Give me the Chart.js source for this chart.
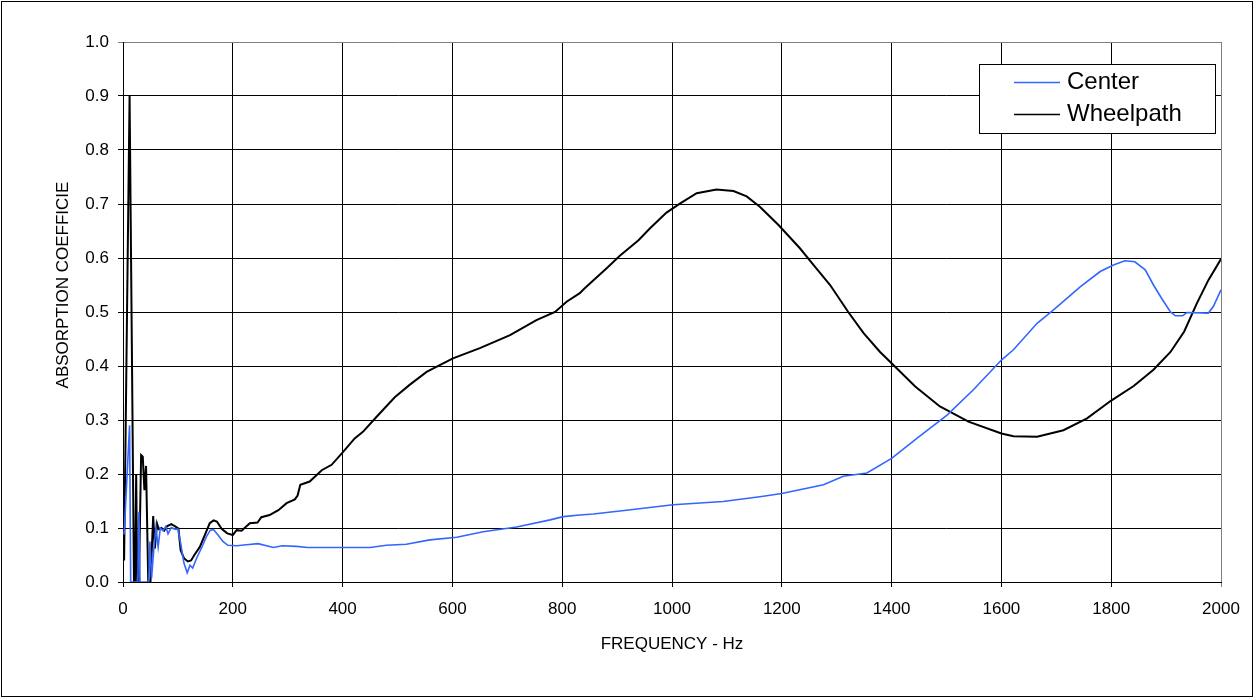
<!DOCTYPE html>
<html>
<head>
<meta charset="utf-8">
<title>Absorption coefficient</title>
<script src="https://cdn.jsdelivr.net/npm/chart.js@4.4.1/dist/chart.umd.min.js"></script>
<style>
  html, body { margin: 0; padding: 0; background: #fff; }
  #wrap { position: relative; width: 1254px; height: 698px; }
  #frame {
    position: absolute; left: 1px; top: 1px; width: 1252px; height: 696px;
    border: 1px solid #000; box-sizing: border-box; pointer-events: none;
  }
</style>
</head>
<body>
<div id="wrap">
  <canvas id="chart"></canvas>
  <div id="frame"></div>
</div>
<script>
// ------------------------------------------------------------
// DATA
// ------------------------------------------------------------
const X_TITLE = "FREQUENCY - Hz";
const Y_TITLE = "ABSORPTION COEFFICIE";

const centerHz = [
  2, 12, 14, 27, 29, 31, 47, 49, 52, 56, 60, 64, 68, 73, 78, 82, 88, 94, 100,
  105, 111, 117, 122, 127, 134, 143, 152, 159, 165, 173, 182, 191, 207, 225,
  246, 274, 290, 316, 336, 371, 450, 480, 516, 559, 608, 656, 717, 778, 802,
  832, 857, 917, 1002, 1093, 1160, 1200, 1276, 1312, 1355, 1400, 1446, 1501,
  1549, 1600, 1622, 1665, 1695, 1744, 1780, 1804, 1825, 1843, 1862, 1877,
  1892, 1908, 1917, 1930, 1938, 1977, 1986, 2000
];
const centerVal = [
  0.088, 0.29, 0, 0, 0.13, 0, 0, 0.075, 0.007, 0.059, 0.1, 0.065, 0.1, 0.095,
  0.103, 0.089, 0.101, 0.098, 0.098, 0.072, 0.035, 0.017, 0.031, 0.026, 0.044,
  0.063, 0.084, 0.096, 0.097, 0.087, 0.075, 0.068, 0.067, 0.069, 0.071, 0.064,
  0.067, 0.066, 0.064, 0.064, 0.064, 0.068, 0.07, 0.078, 0.083, 0.093, 0.102,
  0.115, 0.121, 0.124, 0.126, 0.133, 0.143, 0.149, 0.158, 0.164, 0.18, 0.196,
  0.202, 0.229, 0.266, 0.309, 0.356, 0.411, 0.43, 0.479, 0.504, 0.547, 0.575,
  0.587, 0.595, 0.593, 0.578, 0.55, 0.525, 0.5, 0.493, 0.493, 0.499, 0.498,
  0.51, 0.541
];

const wheelHz = [
  2, 12, 20, 22, 24, 26, 29, 33, 36, 39, 42, 46, 50, 55, 58, 62, 65, 70, 75,
  80, 88, 95, 101, 105, 111, 118, 124, 130, 140, 149, 158, 165, 171, 180, 190,
  200, 207, 216, 231, 245, 252, 267, 283, 298, 313, 318, 323, 340, 362, 380,
  401, 422, 437, 462, 495, 522, 553, 601, 650, 705, 753, 787, 808, 832, 841,
  881, 905, 939, 960, 990, 1015, 1045, 1081, 1112, 1136, 1160, 1194, 1233,
  1258, 1288, 1321, 1349, 1379, 1400, 1443, 1488, 1540, 1600, 1622, 1665,
  1713, 1756, 1800, 1841, 1877, 1908, 1933, 1956, 1977, 2000
];
const wheelVal = [
  0.04, 0.90, 0, 0, 0.2, 0, 0, 0.235, 0.232, 0.17, 0.215, 0, 0, 0.122, 0.062,
  0.108, 0.098, 0.1, 0.095, 0.103, 0.107, 0.103, 0.099, 0.059, 0.044, 0.038,
  0.04, 0.05, 0.065, 0.087, 0.109, 0.114, 0.112, 0.098, 0.09, 0.087, 0.096,
  0.095, 0.109, 0.11, 0.12, 0.124, 0.133, 0.146, 0.153, 0.16, 0.18, 0.186,
  0.207, 0.217, 0.241, 0.266, 0.278, 0.306, 0.342, 0.365, 0.389, 0.414, 0.433,
  0.457, 0.485, 0.5, 0.519, 0.535, 0.544, 0.581, 0.604, 0.633, 0.655, 0.684,
  0.701, 0.72, 0.727, 0.724, 0.714, 0.695, 0.661, 0.618, 0.587, 0.55, 0.5,
  0.461, 0.426, 0.405, 0.362, 0.325, 0.297, 0.275, 0.27, 0.269, 0.281, 0.303,
  0.336, 0.363, 0.393, 0.426, 0.464, 0.516, 0.559, 0.598
];

const FONT = "'Liberation Sans', Arial, sans-serif";

// ------------------------------------------------------------
// PLUGINS
// ------------------------------------------------------------
// vertical axis title (Excel leaves it off-centre and clipped)
const yTitlePlugin = {
  id: "yTitle",
  afterDraw(chart) {
    const ctx = chart.ctx;
    ctx.save();
    ctx.translate(63, 285);
    ctx.rotate(-Math.PI / 2);
    ctx.font = "17px " + FONT;
    ctx.fillStyle = "#000";
    ctx.textAlign = "center";
    ctx.textBaseline = "middle";
    ctx.fillText(Y_TITLE, 0, 0);
    ctx.restore();
  }
};

// boxed legend inside the plot area, top right
const boxLegendPlugin = {
  id: "boxLegend",
  afterDraw(chart) {
    const ctx = chart.ctx;
    const a = chart.chartArea;
    const left = a.right - 242, top = a.top + 22, w = 236, h = 69;
    ctx.save();
    ctx.fillStyle = "#fff";
    ctx.fillRect(left, top, w, h);
    ctx.strokeStyle = "#000";
    ctx.lineWidth = 1;
    ctx.strokeRect(left + 0.5, top + 0.5, w, h);
    ctx.font = "24px " + FONT;
    ctx.textBaseline = "middle";
    chart.data.datasets.forEach((ds, i) => {
      const y = Math.round(top + 18 + i * 32) + 0.5;
      ctx.strokeStyle = ds.borderColor;
      ctx.lineWidth = 1.5;
      ctx.beginPath();
      ctx.moveTo(left + 35, y);
      ctx.lineTo(left + 81, y);
      ctx.stroke();
      ctx.fillStyle = "#000";
      ctx.fillText(ds.label, left + 88, y);
    });
    ctx.restore();
  }
};

// ------------------------------------------------------------
// CHART
// ------------------------------------------------------------
function makeDataset(label, xs, ys, color, width) {
  return {
    label,
    data: xs.map((x, i) => ({ x, y: ys[i] })),
    borderColor: color,
    backgroundColor: color,
    borderWidth: width,
    tension: 0,
    pointRadius: 0
  };
}

const tickFont = { family: FONT, size: 17 };

new Chart(document.getElementById("chart"), {
  type: "line",
  data: {
    datasets: [
      makeDataset("Center",    centerHz, centerVal, "#3366ff", 1.6),
      makeDataset("Wheelpath", wheelHz,  wheelVal,  "#000000", 2)
    ]
  },
  options: {
    responsive: true,
    maintainAspectRatio: false,
    animation: false,
    layout: { padding: { left: 0, right: 33, top: 42, bottom: 43 } },
    plugins: {
      legend: { display: false },
      tooltip: { enabled: false }
    },
    scales: {
      x: {
        type: "linear",
        min: 0,
        max: 2000,
        ticks: {
          stepSize: 200,
          color: "#000",
          font: tickFont,
          padding: 12,
          maxRotation: 0,
          callback: v => String(v)
        },
        grid: {
          color: c => (c.tick && c.tick.value === 2000 ? "#808080" : "#000"),
          lineWidth: 1,
          tickLength: 5
        },
        border: { color: "#000" },
        title: { display: true, text: X_TITLE, color: "#000", font: tickFont, padding: 0 },
        afterFit(scale) { scale.height = 73; }
      },
      y: {
        min: 0,
        max: 1,
        ticks: {
          stepSize: 0.1,
          color: "#000",
          font: tickFont,
          padding: 9,
          callback: v => v.toFixed(1)
        },
        grid: {
          color: c => (c.tick && Math.abs(c.tick.value - 1) < 1e-9 ? "#808080" : "#000"),
          lineWidth: 1,
          tickLength: 5
        },
        border: { color: "#000" },
        afterFit(scale) { scale.width = 123; }
      }
    }
  },
  plugins: [yTitlePlugin, boxLegendPlugin]
});
</script>
</body>
</html>
